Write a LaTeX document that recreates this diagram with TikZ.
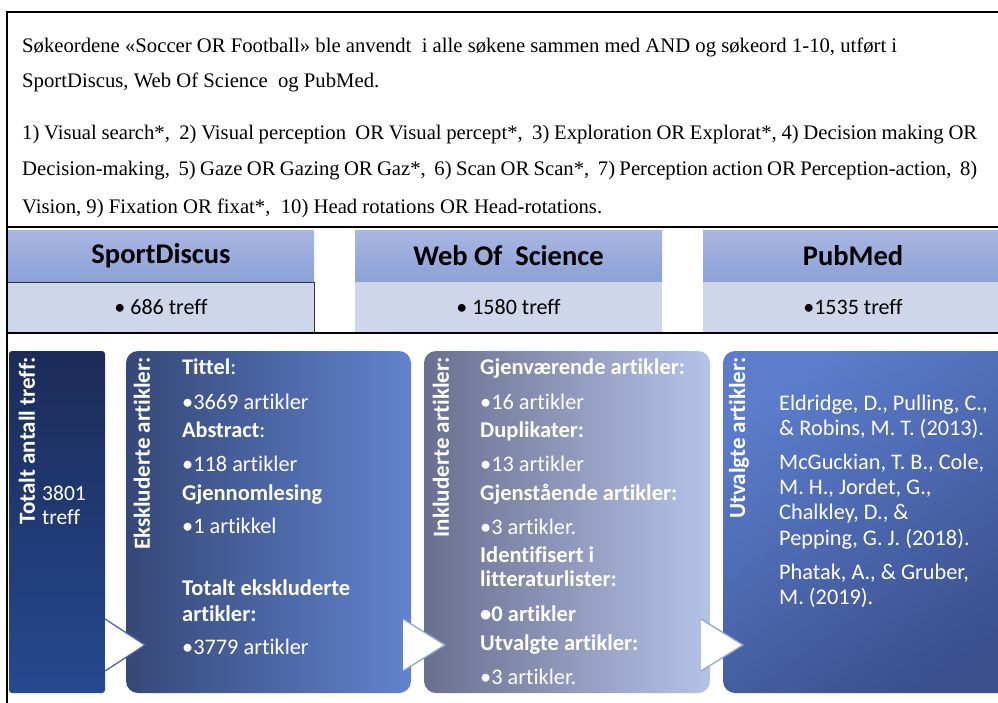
\documentclass[tikz,border=0pt]{standalone}
\usepackage{fontspec}
\setmainfont{Liberation Serif}[Ligatures={NoCommon}]
\newfontfamily\calf{Carlito}[Ligatures={NoCommon}]
\definecolor{hdrtop}{HTML}{A9B7E1}
\definecolor{hdrbot}{HTML}{8CA1D7}
\definecolor{hdrbody}{HTML}{CFD6EA}
\definecolor{pOneTop}{HTML}{1C2B58}
\definecolor{pOneBot}{HTML}{25498F}
\definecolor{pTwoL}{HTML}{354877}
\definecolor{pTwoR}{HTML}{6283CF}
\definecolor{pThreeL}{HTML}{6A6F8F}
\definecolor{pThreeR}{HTML}{B5C3E8}
\definecolor{pFourA}{HTML}{5C7DCC}
\definecolor{pFourB}{HTML}{3A4F8C}
\definecolor{arrowline}{HTML}{4867A8}
\tikzset{
  toptext/.style={anchor=base west, inner sep=0pt, font=\fontsize{20.7}{24}\selectfont},
  hdrbox/.style={minimum width=#1, minimum height=52pt, inner sep=0pt, top color=hdrtop, bottom color=hdrbot, font=\calf\bfseries\fontsize{28.5}{32}\selectfont},
  bodybox/.style={minimum width=#1, minimum height=50pt, inner sep=0pt, fill=hdrbody, font=\calf\fontsize{22}{26}\selectfont},
  panel/.style={minimum height=342pt, inner sep=0pt, rounded corners=12pt},
  vlabel/.style={rotate=90, anchor=east, inner sep=0pt, text=white, font=\calf\bfseries\fontsize{23}{27}\selectfont},
  ptext/.style={anchor=base west, inner sep=0pt, text=white, font=\calf\fontsize{22.3}{26}\selectfont},
  pbold/.style={ptext, font=\calf\bfseries\fontsize{22.5}{26}\selectfont},
  chev/.style={fill=white, draw=none},
  chevline/.style={draw=arrowline, line width=1.3pt}
}
\begin{document}
\begin{tikzpicture}[x=1pt,y=-1pt]
\useasboundingbox (0,0) rectangle (998,702);
\clip (0,0) rectangle (998,702);
\fill[white] (0,0) rectangle (998,702);

% top text
\node[toptext] (t1) at (22,52) {Søkeordene «Soccer OR Football» ble anvendt\ \ i alle søkene sammen med AND og søkeord 1-10, utført i};
\node[toptext] (t2) at (22,87) {SportDiscus, Web Of Science\ \ og PubMed.};
\node[toptext] (t3) at (22,139) {\makebox[955pt][s]{1) Visual search*,\ \ 2) Visual perception\ \ OR Visual percept*,\ \ 3) Exploration OR Explorat*, 4) Decision making OR}};
\node[toptext] (t4) at (22,175) {\makebox[955pt][s]{Decision-making,\ \ 5) Gaze OR Gazing OR Gaz*,\ \ 6) Scan OR Scan*,\ \ 7) Perception action OR Perception-action,\ \ 8)}};
\node[toptext] (t5) at (22,213) {Vision, 9) Fixation OR fixat*,\ \ 10) Head rotations OR Head-rotations.};

% header boxes
\node[hdrbox=306pt] (sdh) at (161,256) {SportDiscus};
\node[bodybox=306pt] (sdb) at (161,307) {\textbullet\ 686 treff};
\draw[line width=1pt, black!80] (8,282) -- (314,282) -- (314,332);
\node[hdrbox=307pt] (wsh) at (508.5,256) {Web Of\ \ Science};
\node[bodybox=307pt] (wsb) at (508.5,307) {\textbullet\ 1580 treff};
\node[hdrbox=300pt] (pmh) at (853,256) {PubMed};
\node[bodybox=300pt] (pmb) at (853,307) {\textbullet1535 treff};

% frame
\draw[line width=2pt] (1000,12) -- (7,12) -- (7,704);
\draw[line width=2pt] (7,227) -- (1000,227);
\draw[line width=2pt] (7,333) -- (1000,333);

% panels
\node[panel, rounded corners=3pt, minimum width=96pt, top color=pOneTop, bottom color=pOneBot] (p1) at (57,522) {};
\node[panel, minimum width=285pt, left color=pTwoL, right color=pTwoR] (p2) at (268.5,522) {};
\node[panel, minimum width=286pt, left color=pThreeL, right color=pThreeR] (p3) at (567,522) {};
\node[panel, minimum width=300pt, top color=pFourA, bottom color=pFourB, shading angle=35] (p4) at (873,522) {};

% chevrons
\coordinate (a1b) at (105,619);
\coordinate (a1t) at (145,645);
\coordinate (a1c) at (105,671);
\fill[chev] (a1b) -- (a1t) -- (a1c) -- cycle;
\draw[chevline] (a1b) -- (a1t) -- (a1c);
\coordinate (a2b) at (403,619);
\coordinate (a2t) at (445,645);
\coordinate (a2c) at (403,671);
\fill[chev] (a2b) -- (a2t) -- (a2c) -- cycle;
\draw[chevline, draw=arrowline!60] (a2b) -- (a2t) -- (a2c);
\coordinate (a3b) at (701,619);
\coordinate (a3t) at (743,645);
\coordinate (a3c) at (701,671);
\fill[chev] (a3b) -- (a3t) -- (a3c) -- cycle;
\draw[chevline, draw=arrowline!60] (a3b) -- (a3t) -- (a3c);

% vertical labels
\node[vlabel] (l1) at (27,357) {Totalt antall treff:};
\node[vlabel] (l2) at (142,357) {Ekskluderte artikler:};
\node[vlabel] (l3) at (441,357) {Inkluderte artikler:};
\node[vlabel] (l4) at (739,357) {Utvalgte artikler:};

% panel 1 text
\node[ptext, font=\calf\fontsize{21.5}{26}\selectfont] (n1a) at (42,500) {3801};
\node[ptext, font=\calf\fontsize{21.5}{26}\selectfont] (n1b) at (42,524) {treff};

% panel 2 text
\node[ptext] (e1) at (182,374) {\textbf{Tittel}:};
\node[ptext] (e2) at (182,409) {\textbullet 3669 artikler};
\node[ptext] (e3) at (182,437) {\textbf{Abstract}:};
\node[ptext] (e4) at (182,471) {\textbullet 118 artikler};
\node[pbold] (e5) at (182,500) {Gjennomlesing};
\node[ptext] (e6) at (182,533) {\textbullet 1 artikkel};
\node[pbold] (e7) at (182,595) {Totalt ekskluderte};
\node[pbold] (e8) at (182,621) {artikler:};
\node[ptext] (e9) at (182,654) {\textbullet 3779 artikler};

% panel 3 text
\node[pbold] (i1) at (480,374) {Gjenværende artikler:};
\node[ptext] (i2) at (480,409) {\textbullet 16 artikler};
\node[pbold] (i3) at (480,437) {Duplikater:};
\node[ptext] (i4) at (480,471) {\textbullet 13 artikler};
\node[pbold] (i5) at (480,500) {Gjenstående artikler:};
\node[ptext] (i6) at (480,534) {\textbullet 3 artikler.};
\node[pbold] (i7) at (480,562) {Identifisert i};
\node[pbold] (i8) at (480,586) {litteraturlister:};
\node[pbold] (i9) at (480,621) {\textbullet 0 artikler};
\node[pbold] (i10) at (480,650) {Utvalgte artikler:};
\node[ptext] (i11) at (480,684) {\textbullet 3 artikler.};

% panel 4 text
\node[ptext] (u1) at (779,410) {Eldridge, D., Pulling, C.,};
\node[ptext] (u2) at (779,435) {\& Robins, M. T. (2013).};
\node[ptext] (u3) at (779,469) {McGuckian, T. B., Cole,};
\node[ptext] (u4) at (779,494) {M. H., Jordet, G.,};
\node[ptext] (u5) at (779,519) {Chalkley, D., \&};
\node[ptext] (u6) at (779,545) {Pepping, G. J. (2018).};
\node[ptext] (u7) at (779,579) {Phatak, A., \& Gruber,};
\node[ptext] (u8) at (779,604) {M. (2019).};
\end{tikzpicture}
\end{document}
